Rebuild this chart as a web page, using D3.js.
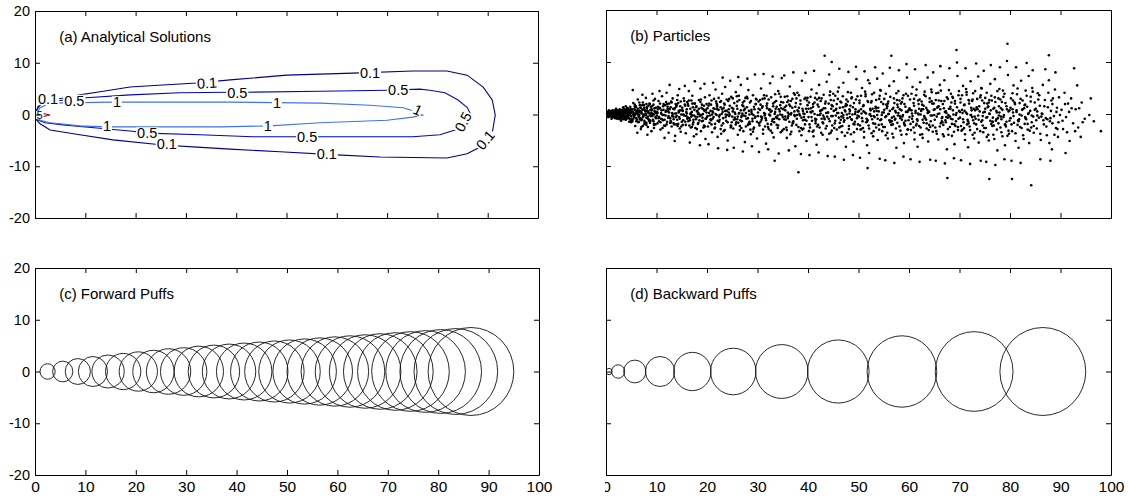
<!DOCTYPE html>
<html>
<head>
<meta charset="utf-8">
<script src="https://cdn.jsdelivr.net/npm/d3@7"></script>
<style>
  body { margin: 0; background: #fff; }
  text { font-family: "Liberation Sans", Arial, sans-serif; }
</style>
</head>
<body>
<div id="wrapper"></div>
<script>
const xTicks = [0, 10, 20, 30, 40, 50, 60, 70, 80, 90, 100];
const yTicks = [-20, -10, 0, 10, 20];
const panelTitles = ["(a) Analytical Solutions", "(b) Particles", "(c) Forward Puffs", "(d) Backward Puffs"];

// (a) contour lines, [x, y]
const contour01 = [[0.0,0.1],[0.6,1.3],[1.4,2.2],[3.0,2.8],[5.6,3.2],[8.9,3.8],[12.3,4.3],[18.9,5.3],[25.4,5.7],[32.2,6.1],[38.8,6.7],[50.1,7.6],[63.2,8.0],[75.1,8.4],[81.9,8.4],[85.9,7.6],[89.1,5.3],[90.9,2.8],[91.5,-0.1],[90.9,-3.6],[88.5,-6.3],[85.9,-7.6],[81.9,-8.4],[68.6,-8.2],[60.0,-7.8],[48.7,-7.2],[38.8,-6.7],[32.2,-6.3],[25.4,-5.9],[15.5,-4.9],[8.9,-3.9],[3.0,-3.0],[1.0,-1.8],[0.0,-0.7]];
const contour05 = [[0.2,0.5],[0.6,1.6],[1.4,2.2],[4.0,2.6],[9.5,3.2],[18.9,3.8],[28.8,4.2],[38.8,4.3],[42.1,4.3],[56.7,4.5],[70.0,4.7],[76.5,4.9],[78.5,4.7],[81.5,4.2],[84.1,2.8],[85.9,1.4],[86.7,-0.1],[86.1,-1.6],[83.5,-3.0],[80.5,-3.9],[75.1,-4.3],[62.0,-4.3],[52.1,-4.3],[43.3,-4.3],[32.8,-3.9],[22.3,-3.6],[18.9,-3.2],[12.3,-2.6],[5.6,-2.0],[2.0,-1.6],[0.6,-1.1]];
const contour1 = [[0.4,0.3],[1.0,1.3],[3.0,2.2],[15.5,2.4],[38.8,2.4],[56.7,2.2],[66.6,1.8],[73.2,1.3],[75.9,0.5],[77.1,-0.1],[75.1,-0.5],[70.0,-1.1],[56.7,-1.6],[46.7,-2.2],[36.8,-2.4],[14.3,-2.4],[8.9,-2.2],[3.0,-1.6],[1.0,-1.1]];
const contour5 = [[0.2,0.5],[3.0,-0.1],[0.2,-0.7]];
// label text, x, y, angle, font size
const contourLabels = [
  ["0.1", 2.6, 3.0, 0, 14.5], ["0.5", 7.8, 2.7, 0, 14.5], ["1", 16.3, 2.4, 0, 14.5], ["0.1", 34.2, 6.1, -3, 14.5], ["0.5", 40.2, 4.2, 0, 14.5],
  ["1", 48.1, 2.2, 0, 14.5], ["0.1", 66.6, 8.0, 0, 14.5], ["0.5", 72.2, 4.7, 0, 14.5], ["1", 76.1, 0.9, 25, 14.5], ["0.5", 85.1, -1.4, -62, 14.5],
  ["0.1", 89.5, -4.9, -50, 14.5], ["1", 14.3, -2.2, 0, 14.5], ["1", 46.3, -2.2, 0, 14.5], ["0.5", 22.3, -3.6, 0, 14.5], ["0.5", 54.1, -4.3, 0, 14.5],
  ["0.1", 26.2, -5.7, 0, 14.5], ["0.1", 58.0, -7.6, 0, 14.5], ["5", 0.9, -0.1, 0, 11]
];

// (b) particle positions, [x, y]
const particles0 = [[0.2,0.1],[0.3,-0.3],[0.4,0.4],[0.5,-0.1],[0.6,0.2],[0.7,-0.5],[0.8,0.0],[0.9,0.5],[1.0,-0.2],[1.1,0.3],
[1.2,-0.6],[1.3,0.1],[1.4,-0.3],[1.5,0.6],[1.6,-0.1],[1.7,0.2],[1.8,-0.8],[1.9,0.4],[2.0,-0.4],[2.1,0.0],
[2.2,0.7],[2.3,-0.2],[2.4,0.3],[2.5,-0.7],[2.6,0.1],[2.7,0.9],[2.8,-0.5],[2.9,0.2],[3.0,-0.1],[3.1,0.5],
[3.2,-0.9],[3.3,0.3],[3.4,-0.3],[3.5,1.0],[3.6,0.0],[3.7,-0.6],[3.8,0.6],[3.9,-1.1],[4.0,0.2],[4.1,-0.2],
[4.2,1.2],[4.3,-0.4],[4.4,0.4],[4.5,-0.8],[4.6,0.8],[4.7,-0.1],[4.8,1.4],[4.9,-1.3],[0.4,-0.6],[0.9,-0.4],
[1.3,0.7],[1.8,0.3],[2.3,0.5],[2.7,-1.0],[3.2,0.8],[3.6,-0.4],[4.0,-1.0],[4.4,1.0],[4.8,0.1],[1.1,-0.9],
[2.0,1.0],[3.0,-1.3],[3.9,1.5],[4.6,-1.5],[0.6,0.7],[1.6,-0.6],[2.5,0.4],[3.4,1.3],[4.2,-0.6],[4.9,0.6],
[5.1,0.3],[5.2,-1.2],[5.4,2.1],[5.5,-0.4],[5.6,0.9],[5.8,-2.3],[5.9,1.5],[6.0,-0.8],[6.1,0.1],[6.3,2.8],
[6.4,-1.6],[6.5,0.6],[6.6,-0.2],[6.8,1.2],[6.9,-2.9],[7.0,0.4],[7.1,-1.0],[7.3,2.2],[7.4,-0.5],[7.5,1.7],
[7.6,-1.9],[7.8,0.0],[7.9,3.1],[8.0,-0.7],[8.1,1.0],[8.3,-2.5],[8.4,0.5],[8.5,-1.3],[8.6,2.0],[8.8,-0.3],
[8.9,1.4],[9.0,-3.3],[9.1,0.8],[9.3,-1.1],[9.4,2.6],[9.5,-0.1],[9.6,1.1],[9.8,-2.0],[9.9,0.2],[5.3,4.6],
[6.2,-3.6],[7.2,3.7],[8.2,-4.0],[9.2,3.9],[5.7,1.8],[6.7,-1.0],[7.7,0.7],[8.7,-1.7],[9.7,2.9],[6.0,0.6],
[7.0,-2.5],[8.0,1.9],[9.0,0.0],[5.0,-1.6],[9.5,-2.7],
[10.1,0.4],[10.2,-1.8],[10.4,2.5],[10.5,-0.6],[10.7,1.1],[10.8,-3.0],[11.0,0.0],[11.1,3.4],[11.3,-1.2],[11.4,0.8],
[11.5,-2.2],[11.7,1.7],[11.8,-0.3],[12.0,4.1],[12.1,-1.5],[12.3,0.5],[12.4,-3.6],[12.5,2.0],[12.7,-0.8],[12.8,1.3],
[13.0,-2.4],[13.1,0.2],[13.2,3.0],[13.4,-1.0],[13.5,0.9],[13.7,-4.2],[13.8,1.9],[14.0,-0.4],[14.1,2.7],[14.3,-1.9],
[14.4,0.6],[14.6,-2.8],[14.7,1.5],[14.9,-0.1],[10.6,4.4],[11.6,-4.6],[12.6,5.6],[13.6,-5.2],[14.5,4.8],[10.9,-0.9],
[11.9,2.3],[12.9,-1.6],[13.9,0.1],[14.8,-3.4],[10.3,1.4],[11.2,-2.7],[12.2,1.0],[13.3,-0.5],[14.2,3.6],[13.9,-2.0],
[15.1,0.7],[15.2,-2.1],[15.4,3.0],[15.5,-0.3],[15.7,1.6],[15.8,-3.7],[16.0,0.1],[16.1,2.3],[16.3,-1.4],[16.4,4.4],
[16.5,-0.8],[16.7,1.0],[16.8,-2.6],[17.0,0.4],[17.1,3.5],[17.3,-1.1],[17.4,-4.3],[17.5,2.0],[17.7,-0.5],[17.8,1.3],
[18.0,-2.9],[18.1,0.6],[18.3,-1.7],[18.4,2.7],[18.5,-0.1],[18.7,4.9],[18.8,-3.3],[19.0,1.8],[19.1,-0.7],[19.3,0.9],
[19.4,-2.2],[19.6,3.2],[19.7,-4.8],[19.9,0.3],[15.6,5.4],[16.6,-5.5],[17.6,6.3],[18.6,-6.0],[19.5,5.8],[15.3,-1.2],
[16.2,1.9],[17.2,-2.0],[18.2,0.0],[19.2,-1.3],[15.9,-0.4],[16.9,2.6],[17.9,-3.9],[18.9,1.2],[19.8,-0.9],[17.0,-0.2]];
const particles20 = [[20.1,1.1],[20.2,-2.4],[20.4,0.2],[20.5,3.6],[20.7,-1.0],[20.8,1.8],[21.0,-3.5],[21.1,0.5],[21.3,-0.6],[21.4,2.9],
[21.6,-1.9],[21.7,4.7],[21.9,-0.2],[22.0,1.4],[22.1,-4.4],[22.3,0.8],[22.4,-1.5],[22.6,2.3],[22.7,-2.9],[22.9,0.0],
[23.0,3.9],[23.2,-0.8],[23.3,1.2],[23.5,-3.1],[23.6,5.2],[23.8,-1.3],[23.9,0.6],[24.1,-5.1],[24.2,2.5],[24.4,-0.4],
[24.5,1.6],[24.7,-2.2],[24.8,3.3],[20.3,-5.8],[21.2,6.0],[22.2,-6.6],[23.1,7.0],[24.0,-6.9],[24.6,6.4],[20.6,-0.3],
[21.5,1.0],[22.5,-1.1],[23.4,2.0],[24.3,0.3],[20.9,-2.0],[21.8,2.4],[22.8,-3.8],[23.7,-0.1],[24.9,-1.6],[22.0,0.9],
[25.1,0.5],[25.2,-2.8],[25.4,2.1],[25.5,-0.7],[25.7,4.2],[25.8,-1.6],[26.0,1.0],[26.1,-4.0],[26.3,0.1],[26.4,2.7],
[26.6,-1.2],[26.7,5.6],[26.9,-0.3],[27.0,1.7],[27.2,-3.3],[27.3,0.7],[27.5,-5.4],[27.6,3.1],[27.8,-0.9],[27.9,1.3],
[28.1,-2.1],[28.2,4.6],[28.4,-0.1],[28.5,2.2],[28.7,-3.9],[28.8,0.4],[29.0,-1.4],[29.1,3.6],[29.3,-2.6],[29.4,0.9],
[29.6,-0.5],[29.7,1.9],[29.9,-4.7],[25.3,-6.5],[26.2,7.1],[27.1,-7.2],[28.0,6.8],[28.9,-6.2],[29.5,7.6],[25.6,0.0],
[26.5,-2.3],[27.4,2.5],[28.3,-1.8],[29.2,-0.2],[25.9,3.4],[26.8,-0.6],[27.7,0.2],[28.6,-3.0],[29.8,2.8],[26.0,-1.0],
[30.1,-0.4],[30.2,2.4],[30.4,-2.2],[30.5,0.8],[30.7,4.9],[30.8,-1.1],[31.0,1.5],[31.1,-3.8],[31.3,0.2],[31.4,3.0],
[31.6,-0.8],[31.7,-5.7],[31.9,1.1],[32.0,-1.9],[32.2,2.8],[32.3,-0.1],[32.5,5.9],[32.6,-3.2],[32.8,0.6],[32.9,-1.4],
[33.1,2.0],[33.2,-4.5],[33.4,0.0],[33.5,3.8],[33.7,-0.6],[33.8,1.4],[34.0,-2.7],[34.1,4.4],[34.3,-1.0],[34.4,0.5],
[34.6,-3.5],[34.7,2.3],[34.9,-0.2],[30.3,-7.3],[31.2,7.7],[32.1,-6.8],[33.0,7.2],[33.4,-9.0],[34.2,-7.6],[34.8,6.9],
[30.6,1.8],[31.5,-2.4],[32.4,0.9],[33.3,-0.9],[34.5,1.7],[30.9,-0.7],[31.8,3.5],[32.7,-2.0],[33.6,1.0],[34.0,-0.3],
[35.1,0.9],[35.2,-2.9],[35.4,3.3],[35.5,-0.5],[35.7,1.6],[35.8,-4.6],[36.0,0.3],[36.1,2.6],[36.3,-1.5],[36.4,5.3],
[36.6,-0.1],[36.7,-3.4],[36.9,1.2],[37.0,-1.8],[37.2,4.0],[37.3,0.5],[37.5,-6.2],[37.6,2.1],[37.8,-0.9],[37.9,0.7],
[38.1,-2.5],[38.2,3.6],[38.4,-0.3],[38.5,1.9],[38.7,-4.1],[38.8,6.4],[39.0,-1.2],[39.1,0.1],[39.3,2.9],[39.4,-2.0],
[39.6,1.0],[39.7,-5.2],[39.9,3.1],[35.3,7.4],[36.2,-7.0],[37.1,8.0],[38.1,-11.2],[38.6,-7.7],[39.5,7.9],[35.6,-1.1],
[36.5,1.5],[37.4,-0.4],[38.3,0.0],[39.2,-0.6],[35.9,2.3],[36.8,-2.2],[37.7,3.0],[38.9,-3.0],[39.8,0.4],[36.0,-0.8],
[40.1,-0.6],[40.2,2.2],[40.4,-2.6],[40.5,0.4],[40.7,4.7],[40.8,-1.3],[41.0,1.4],[41.1,-4.3],[41.3,0.0],[41.4,3.1],
[41.6,-1.0],[41.7,-5.9],[41.9,1.8],[42.0,-2.1],[42.2,5.6],[42.3,-0.2],[42.5,2.5],[42.6,-3.6],[42.8,0.8],[42.9,-1.6],
[43.1,3.7],[43.2,-0.7],[43.4,1.1],[43.5,-2.8],[43.7,6.2],[43.8,-4.9],[44.0,0.3],[44.1,2.0],[44.3,-1.4],[44.4,4.3],
[44.6,-0.4],[44.7,-3.2],[44.9,1.5],[40.3,-7.9],[41.2,8.3],[42.1,-7.4],[43.3,11.2],[44.7,10.0],[43.9,-8.1],[44.2,7.6],
[40.6,1.1],[41.5,-1.8],[42.4,0.6],[43.0,-0.3],[44.5,2.7],[40.9,-3.4],[41.8,2.8],[42.7,-0.9],[43.6,0.2],[44.8,-2.2],
[45.1,0.6],[45.2,-2.7],[45.4,3.5],[45.5,-0.3],[45.7,1.9],[45.8,-4.8],[46.0,0.2],[46.1,5.1],[46.3,-1.7],[46.4,2.4],
[46.6,-0.5],[46.7,-3.5],[46.9,1.3],[47.0,6.0],[47.2,-1.2],[47.3,0.7],[47.5,-6.3],[47.6,2.8],[47.8,-0.8],[47.9,4.2],
[48.1,-2.3],[48.2,0.1],[48.4,1.6],[48.5,-3.9],[48.7,3.2],[48.8,-0.1],[49.0,-5.3],[49.1,2.1],[49.3,-1.5],[49.4,0.9],
[49.6,6.7],[49.7,-2.9],[49.9,0.4],[45.3,-8.2],[46.2,8.7],[47.1,-8.8],[48.0,8.1],[48.9,-7.9],[49.5,9.1],[45.6,1.0],
[46.5,-1.1],[47.4,0.5],[48.3,-0.6],[49.2,-2.0],[45.9,2.9],[46.8,-2.3],[47.7,1.7],[48.6,-1.0],[49.8,3.4],[47.0,-0.2]];
const particles50 = [[50.1,-0.5],[50.2,2.6],[50.4,-3.0],[50.5,0.9],[50.7,5.0],[50.8,-1.4],[51.0,1.7],[51.1,-4.5],[51.3,0.3],[51.4,3.4],
[51.6,-0.9],[51.7,-6.0],[51.9,6.5],[51.8,-10.4],[52.0,-2.2],[52.2,5.9],[52.3,0.0],[52.5,2.2],[52.6,-3.7],[52.8,1.0],
[52.9,-1.8],[53.1,4.1],[53.2,-0.6],[53.4,1.4],[53.5,-2.6],[53.7,6.8],[53.8,-5.0],[54.0,0.5],[54.1,2.9],[54.3,-1.2],
[54.4,4.5],[54.6,-0.2],[54.7,-3.3],[54.9,1.9],[50.3,-8.4],[51.2,8.2],[52.1,-7.5],[53.3,9.0],[54.2,-8.6],[54.8,7.8],
[50.6,0.1],[51.5,-1.6],[52.4,0.7],[53.0,-0.4],[54.5,2.3],[50.9,-2.7],[51.8,2.5],[52.7,-1.0],[53.6,0.6],[54.0,-2.1],
[55.1,0.8],[55.2,-2.5],[55.4,3.9],[55.5,-0.4],[55.7,1.5],[55.8,-4.7],[56.0,0.0],[56.1,5.4],[56.3,-1.6],[56.5,11.2],
[56.6,-0.7],[56.7,-3.8],[56.9,1.2],[57.0,6.3],[57.2,-1.1],[57.3,0.6],[57.5,-6.5],[57.6,2.7],[57.8,-0.3],[57.9,4.4],
[58.1,-2.4],[58.2,0.9],[58.4,2.0],[58.5,-4.0],[58.7,3.0],[58.8,-0.2],[59.0,-5.6],[59.1,1.9],[59.3,-1.3],[59.4,0.4],
[59.6,7.0],[59.7,-3.0],[59.9,0.7],[55.3,-8.9],[56.2,8.9],[57.1,-9.4],[58.0,8.4],[58.9,-8.2],[59.5,9.6],[55.6,1.1],
[56.4,-1.3],[57.4,0.3],[58.3,-0.8],[59.2,-2.2],[55.9,2.4],[56.8,-2.0],[57.7,1.8],[58.6,-1.1],[59.8,3.5],[57.0,-0.5],
[60.1,-0.6],[60.2,2.8],[60.4,-3.1],[60.5,0.7],[60.7,5.2],[60.8,-1.5],[61.0,1.6],[61.1,-4.9],[61.3,0.2],[61.4,3.6],
[61.6,-1.0],[61.7,-6.3],[61.9,1.9],[62.0,-2.3],[62.2,6.1],[62.3,-0.1],[62.5,2.4],[62.6,-3.9],[62.8,0.9],[62.9,-1.7],
[63.1,4.3],[63.2,-0.8],[63.4,1.2],[63.5,-2.8],[63.7,7.0],[63.8,-5.3],[64.0,0.4],[64.1,3.0],[64.3,-1.4],[64.4,4.7],
[64.6,-0.3],[64.7,-3.4],[64.9,2.0],[60.3,-8.7],[61.2,8.6],[62.1,-9.2],[63.3,9.4],[64.2,-8.8],[64.8,8.0],[60.6,0.1],
[61.5,-1.9],[62.4,0.6],[63.0,-0.4],[64.5,2.5],[60.9,-2.6],[61.8,2.6],[62.7,-1.1],[63.6,0.8],[64.0,-2.1],[62.0,1.0],
[65.1,0.9],[65.2,-2.6],[65.4,4.0],[65.5,-0.5],[65.7,1.4],[65.8,-4.9],[66.0,0.1],[66.1,5.6],[66.3,-1.8],[66.4,2.5],
[66.6,-0.6],[66.7,-3.9],[66.9,1.1],[67.0,6.5],[67.2,-1.2],[67.3,0.5],[67.6,-12.3],[67.5,-6.8],[67.7,2.9],[67.8,-0.2],
[67.9,4.6],[68.1,-2.5],[68.2,1.0],[68.4,2.2],[68.5,-4.2],[68.7,3.1],[68.8,-0.1],[69.0,-5.8],[69.1,2.0],[69.3,-1.4],
[69.4,12.3],[69.6,7.3],[69.7,-3.1],[69.9,0.6],[65.3,-9.0],[66.2,9.2],[67.1,-9.5],[68.0,8.8],[68.9,-8.5],[69.5,9.9],
[65.6,1.2],[66.5,-1.4],[67.4,0.2],[68.3,-0.9],[69.2,-2.3],[65.9,2.6],[66.8,-2.1],[67.7,-0.7],[68.6,-1.0],[69.8,3.6],
[70.1,-0.7],[70.2,2.9],[70.4,-3.2],[70.5,0.8],[70.7,5.4],[70.8,-1.6],[71.0,1.8],[71.1,-5.0],[71.3,0.3],[71.4,3.7],
[71.6,-1.1],[71.7,-6.4],[71.9,2.0],[72.0,-2.4],[72.2,6.3],[72.3,-0.2],[72.5,2.5],[72.6,-4.0],[72.8,1.0],[72.9,-1.8],
[73.1,4.4],[73.2,-0.9],[73.4,1.3],[73.5,-2.9],[73.7,7.2],[73.8,-5.5],[74.0,0.5],[74.1,3.2],[74.3,-1.5],[74.4,4.9],
[74.6,-0.4],[74.7,-3.5],[74.9,2.1],[70.3,-8.9],[71.2,8.8],[72.1,-9.6],[73.3,9.7],[74.2,-9.0],[74.8,8.3],[70.6,0.2],
[71.5,-2.0],[72.4,0.7],[73.0,-0.5],[74.5,2.6],[70.9,-2.7],[71.8,2.7],[72.7,-1.2],[73.6,0.9],
[75.1,1.0],[75.2,-2.7],[75.4,4.1],[75.5,-0.6],[75.7,1.5],[75.8,-5.1],[75.9,-12.5],[76.0,0.0],[76.1,5.8],[76.3,-1.9],
[76.4,2.6],[76.6,-0.7],[76.7,-4.0],[76.9,1.2],[77.0,6.7],[77.2,-1.3],[77.3,0.6],[77.5,-7.0],[77.7,3.0],[77.8,-0.3],
[77.9,4.8],[78.1,-2.6],[78.2,1.1],[78.4,2.3],[78.5,-4.3],[78.7,3.3],[78.8,-0.2],[79.0,-6.0],[79.1,2.1],[79.3,-1.5],
[79.5,13.5],[79.6,7.5],[79.7,-3.2],[79.9,0.7],[75.3,-9.2],[76.2,9.4],[77.1,-9.8],[78.0,9.0],[78.9,-8.7],[79.4,10.2],
[75.6,1.3],[76.5,-1.5],[77.4,0.3],[78.3,-1.0],[79.2,-2.4],[75.9,2.7],[76.8,-2.2],[77.6,-0.8]];
const particles80 = [[80.1,-0.8],[80.2,3.0],[80.4,-12.5],[80.4,-3.3],[80.5,0.9],[80.7,5.5],[80.8,-1.7],[81.0,1.9],[81.1,-5.2],[81.3,0.4],
[81.4,3.8],[81.6,-1.2],[81.7,-6.5],[81.9,2.1],[82.0,-2.5],[82.2,6.4],[82.3,-0.3],[82.5,2.6],[82.6,-4.1],[82.8,1.1],
[82.9,-1.9],[83.1,4.5],[83.2,-1.0],[83.4,1.4],[83.5,-3.0],[83.7,7.3],[83.8,-5.6],[84.0,0.6],[84.2,-13.7],[84.1,3.3],
[84.3,-1.6],[84.4,5.0],[84.6,-0.5],[84.7,-3.6],[84.9,2.2],[80.3,-9.0],[81.2,9.0],[82.1,-9.4],[83.3,9.8],[84.5,8.4],
[80.6,0.3],[81.5,-2.1],[82.4,0.8],[83.0,-0.6],[83.6,0.0],
[85.1,1.0],[85.3,-2.8],[85.5,4.0],[85.7,-0.7],[85.9,1.6],[86.1,-5.0],[86.3,0.1],[86.5,5.6],[86.7,-2.0],[86.9,2.7],
[87.1,-0.8],[87.3,-4.1],[87.5,1.3],[87.7,11.3],[87.7,6.5],[87.9,-1.4],[88.1,0.6],[88.3,-6.8],[88.5,3.0],[88.7,-0.4],
[88.9,4.7],[89.1,-2.7],[89.3,1.2],[89.5,-4.4],[89.7,3.2],[89.9,-0.2],[86.0,-8.7],[87.0,8.6],[88.0,-9.0],[89.0,8.0],
[86.6,-1.2],[88.4,-1.8],
[90.2,0.8],[90.5,-2.9],[90.8,4.1],[91.1,-0.6],[91.5,2.0],[91.8,-5.2],[92.2,1.1],[92.7,8.8],[92.9,-3.3],[93.3,5.5],
[93.7,1.1],[94.0,-4.4],[94.4,-1.6],[91.0,-7.5],[95.7,-0.2],[96.6,-1.4],[98.0,-3.3],[96.0,3.0]];
// denser core of the cloud
const particlesCore = [[0.1,0.0],[0.3,0.2],[0.5,-0.3],[0.7,0.3],[0.9,-0.1],[1.0,0.4],[1.2,0.0],[1.4,-0.5],[1.5,0.2],[1.7,-0.2],
[1.9,0.6],[2.0,-0.6],[2.2,0.1],[2.4,-0.3],[2.6,0.5],[2.8,0.0],[3.0,0.7],[3.1,-0.5],[3.3,-0.1],[3.5,0.4],
[3.7,0.9],[3.8,-0.8],[4.0,0.5],[4.2,-0.3],[4.4,0.0],[4.5,0.7],[4.7,-0.9],[4.9,0.3],[5.0,-0.4],[5.2,0.9],
[5.4,-0.9],[5.5,0.2],[5.7,-0.2],[5.9,1.3],[6.0,-1.4],[6.2,0.5],[6.4,0.0],[6.5,-0.6],[6.7,1.7],[6.9,0.3],
[7.0,-1.2],[7.2,0.8],[7.4,-0.3],[7.6,1.2],[7.7,-1.6],[7.9,-0.1],[8.1,0.5],[8.3,-0.9],[8.4,1.6],[8.6,0.1],
[8.8,-1.3],[9.0,0.9],[9.2,-0.4],[9.4,1.8],[9.5,-1.9],[9.7,0.4],[9.9,-0.8],[8.0,-2.1],[6.6,2.2],[7.3,-2.3],
[10.1,-0.3],[10.3,0.9],[10.5,-1.4],[10.7,2.0],[10.9,0.2],[11.1,-1.0],[11.3,1.5],[11.5,-0.2],[11.7,-2.3],[11.9,0.6],
[12.1,1.9],[12.3,-0.7],[12.5,0.3],[12.7,-1.7],[12.9,2.4],[13.1,-0.4],[13.3,1.0],[13.5,-2.0],[13.7,0.1],[13.9,1.4],
[14.1,-1.1],[14.3,2.1],[14.5,-0.6],[14.7,0.7],[14.9,-2.4],[15.1,1.2],[15.3,-0.1],[15.5,2.5],[15.7,-1.5],[15.9,0.4],
[16.1,-0.9],[16.3,1.6],[16.5,-2.2],[16.7,0.0],[16.9,-0.5],[17.1,2.0],[17.3,-1.6],[17.5,0.8],[17.7,-2.7],[17.9,1.5],
[18.1,-0.6],[18.3,0.2],[18.5,-1.2],[18.7,2.3],[18.9,-0.2],[19.1,1.0],[19.3,-2.6],[19.5,0.6],[19.7,-0.9],[19.9,1.9],
[20.1,-0.4],[20.3,1.6],[20.5,-1.7],[20.7,0.6],[20.9,2.6],[21.1,-0.9],[21.3,1.1],[21.5,-2.8],[21.7,0.0],[21.9,2.0],
[22.1,-1.3],[22.3,3.1],[22.5,-0.2],[22.7,1.3],[22.9,-2.2],[23.1,0.4],[23.3,-3.3],[23.5,1.8],[23.7,-0.6],[23.9,2.8],
[24.1,-1.6],[24.3,0.9],[24.5,-0.1],[24.7,-2.6],[24.9,1.2],[25.1,3.0],[25.3,-1.1],[25.5,0.3],[25.7,-2.0],[25.9,1.6],
[26.1,-0.5],[26.3,3.5],[26.5,-3.1],[26.7,0.7],[26.9,-1.4],[27.1,2.2],[27.3,-0.3],[27.5,1.0],[27.7,-2.4],[27.9,3.3],
[28.1,-0.8],[28.3,0.6],[28.5,-1.9],[28.7,2.5],[28.9,0.0],[29.1,-3.4],[29.3,1.4],[29.5,-0.7],[29.7,2.9],[29.9,-1.5],
[30.1,0.3],[30.3,-1.8],[30.5,2.7],[30.7,-0.5],[30.9,1.2],[31.1,-3.0],[31.3,3.6],[31.5,0.0],[31.7,-1.2],[31.9,2.0],
[32.1,-2.5],[32.3,0.8],[32.5,-0.3],[32.7,3.2],[32.9,-3.6],[33.1,1.5],[33.3,-1.6],[33.5,0.4],[33.7,2.5],[33.9,-0.8],
[34.1,-2.2],[34.3,3.9],[34.5,-0.1],[34.7,1.1],[34.9,-3.2],[35.1,2.2],[35.3,-1.0],[35.5,0.7],[35.7,-2.6],[35.9,3.4],
[36.1,-0.4],[36.3,1.8],[36.5,-3.9],[36.7,0.2],[36.9,2.9],[37.1,-1.4],[37.3,-0.2],[37.5,1.4],[37.7,-2.1],[37.9,4.1],
[38.1,0.5],[38.3,-3.3],[38.5,2.6],[38.7,-0.7],[38.9,1.0],[39.1,-2.8],[39.3,0.0],[39.5,3.1],[39.7,-1.3],[39.9,1.7],
[40.1,1.0],[40.3,-2.0],[40.5,3.3],[40.7,-0.6],[40.9,0.5],[41.1,-3.2],[41.3,2.2],[41.5,-1.3],[41.7,4.0],[41.9,-0.2],
[42.1,1.4],[42.3,-2.6],[42.5,0.1],[42.7,3.0],[42.9,-4.0],[43.1,1.1],[43.3,-1.0],[43.5,2.4],[43.7,-2.3],[43.9,0.3],
[44.1,-0.9],[44.3,3.6],[44.5,-3.6],[44.7,1.7],[44.9,-0.4],[45.1,2.6],[45.3,-1.8],[45.5,0.8],[45.7,-3.0],[45.9,4.3],
[46.1,-0.7],[46.3,1.2],[46.5,-2.4],[46.7,0.2],[46.9,3.4],[47.1,-1.5],[47.3,-4.2],[47.5,1.9],[47.7,-0.1],[47.9,2.4],
[48.1,-2.9],[48.3,0.6],[48.5,4.1],[48.7,-1.1],[48.9,1.3],[49.1,-3.5],[49.3,0.0],[49.5,2.8],[49.7,-0.8],[49.9,-2.0],
[50.1,0.6],[50.3,-2.2],[50.5,3.5],[50.7,-0.8],[50.9,1.5],[51.1,-3.4],[51.3,4.3],[51.5,0.1],[51.7,-1.5],[51.9,2.3],
[52.1,-2.8],[52.3,1.0],[52.5,-0.4],[52.7,3.8],[52.9,-4.3],[53.1,0.5],[53.3,-1.9],[53.5,2.7],[53.7,-0.2],[53.9,1.2],
[54.1,-3.0],[54.3,4.6],[54.5,-1.0],[54.7,0.3],[54.9,-2.5],[55.1,2.9],[55.3,-0.6],[55.5,1.8],[55.7,-3.6],[55.9,0.0],
[56.1,-1.2],[56.3,3.3],[56.5,-2.1],[56.7,0.9],[56.9,-4.5],[57.1,2.1],[57.3,-0.9],[57.5,4.0],[57.7,-1.7],[57.9,0.2],
[58.1,2.6],[58.3,-3.2],[58.5,0.7],[58.7,-0.5],[58.9,3.6],[59.1,-2.0],[59.3,1.4],[59.5,-3.9],[59.7,0.4],[59.9,-1.2],
[60.1,1.1],[60.3,-1.9],[60.5,3.9],[60.7,-0.4],[60.9,2.1],[61.1,-3.6],[61.3,0.6],[61.5,4.7],[61.7,-1.3],[61.9,-0.1],
[62.1,2.8],[62.3,-2.6],[62.5,0.9],[62.7,-4.6],[62.9,1.6],[63.1,-0.7],[63.3,3.4],[63.5,-1.8],[63.7,0.2],[63.9,-3.1],
[64.1,2.3],[64.3,-0.3],[64.5,4.2],[64.7,-2.2],[64.9,0.8],[65.1,-1.1],[65.3,2.7],[65.5,-3.8],[65.7,0.0],[65.9,1.5],
[66.1,-2.4],[66.3,4.5],[66.5,-0.8],[66.7,1.9],[66.9,-4.3],[67.1,0.4],[67.3,-1.6],[67.5,3.2],[67.7,-2.9],[67.9,1.0],
[68.1,-0.5],[68.3,3.9],[68.5,-1.9],[68.7,0.7],[68.9,-3.4],[69.1,2.5],[69.3,-0.2],[69.5,1.3],[69.7,-2.5],[69.9,4.4],
[70.1,0.4],[70.3,-2.3],[70.5,3.6],[70.7,-1.0],[70.9,1.7],[71.1,-3.9],[71.3,4.8],[71.5,0.0],[71.7,-1.4],[71.9,2.6],
[72.1,-3.1],[72.3,1.2],[72.5,-0.6],[72.7,4.0],[72.9,-4.7],[73.1,0.7],[73.3,-2.0],[73.5,2.9],[73.7,-0.3],[73.9,1.5],
[74.1,-3.3],[74.3,5.0],[74.5,-1.2],[74.7,0.3],[74.9,-2.7],[75.1,3.1],[75.3,-0.7],[75.5,2.0],[75.7,-4.0],[75.9,0.1],
[76.1,-1.3],[76.3,3.5],[76.5,-2.3],[76.7,1.0],[76.9,-4.8],[77.1,2.3],[77.3,-1.0],[77.5,4.4],[77.7,-1.8],[77.9,0.3],
[78.1,2.8],[78.3,-3.5],[78.5,0.8],[78.7,-0.6],[78.9,3.9],[79.1,-2.1],[79.3,1.5],[79.5,-4.2],[79.7,0.5],[79.9,-1.3],
[80.1,1.2],[80.3,-2.0],[80.5,4.0],[80.7,-0.4],[80.9,2.2],[81.1,-3.7],[81.3,0.7],[81.5,4.9],[81.7,-1.4],[81.9,-0.1],
[82.1,2.9],[82.3,-2.7],[82.5,0.9],[82.7,-4.8],[82.9,1.7],[83.1,-0.8],[83.3,3.5],[83.5,-1.9],[83.7,0.2],[83.9,-3.2],
[84.1,2.4],[84.3,-0.3],[84.5,4.3],[84.7,-2.3],[84.9,0.8],[85.2,-1.2],[85.6,2.8],[86.0,-3.8],[86.4,0.0],[86.8,1.5],
[87.2,-2.4],[87.6,4.1],[88.0,-0.8],[88.4,1.9],[88.8,-4.0],[89.2,0.4],[89.6,-1.6],[85.4,0.5],[86.2,-0.5],[87.4,-1.0],
[88.2,2.6],[89.4,-2.9],[85.8,3.6],[87.8,-5.6],
[90.4,-1.3],[90.9,1.9],[91.3,-3.5],[91.7,0.4],[92.1,3.0],[92.5,-1.8],[93.0,0.9],[93.5,-2.6],[94.2,2.2],[94.8,-0.9]];
const particlesInner = [[0.2,-0.2],[0.4,0.1],[0.6,-0.4],[0.8,0.3],[1.0,0.0],[1.1,-0.3],[1.3,0.4],[1.5,-0.2],[1.6,0.5],[1.8,0.0],
[2.0,0.3],[2.1,-0.5],[2.3,0.2],[2.5,-0.1],[2.6,0.6],[2.8,-0.3],[2.9,0.4],[3.1,0.0],[3.3,-0.6],[3.4,0.7],
[3.6,-0.2],[3.8,0.2],[3.9,-0.5],[4.1,0.8],[4.3,0.1],[4.4,-0.7],[4.6,0.3],[4.8,-0.3],[4.9,1.0],[5.1,-0.9],
[5.3,0.4],[5.4,-0.1],[5.6,-0.6],[5.8,0.7],[5.9,0.0],[6.1,-1.1],[6.3,1.0],[6.4,-0.3],[6.6,0.4],[6.8,-0.8],
[6.9,1.2],[7.1,0.1],[7.3,-0.6],[7.4,0.9],[7.6,-1.3],[7.8,0.5],[7.9,-0.2],[8.1,1.3],[8.3,-0.5],[8.4,0.2],
[8.6,-1.1],[8.8,0.8],[8.9,-0.4],[9.1,1.5],[9.3,0.0],[9.4,-1.4],[9.6,0.6],[9.8,-0.6],[9.9,1.2],[0.5,0.5],
[1.2,-0.7],[1.9,0.8],[2.7,-0.8],[3.5,-1.0],[4.2,1.1],[5.0,0.6],[5.7,1.4],[6.5,-1.5],[7.2,1.7],[8.0,-1.7],
[8.7,1.9],[9.5,-2.1],[3.0,0.1],[4.5,-0.1],[6.0,0.2],[7.5,-0.1],[9.0,0.3],[2.2,-0.9],[5.2,-1.4],[6.7,0.6],
[10.2,0.2],[10.4,-0.8],[10.6,1.2],[10.8,-1.6],[11.0,0.7],[11.2,-0.2],[11.4,1.9],[11.6,-1.1],[11.8,0.4],[12.0,-2.0],
[12.2,1.4],[12.4,-0.4],[12.6,0.9],[12.8,-1.3],[13.0,2.2],[13.2,0.0],[13.4,-1.8],[13.6,1.1],[13.8,-0.6],[14.0,1.7],
[14.2,-2.3],[14.4,0.3],[14.6,-0.9],[14.8,2.4],[15.0,-1.5],[15.2,0.6],[15.4,-0.2],[15.6,1.8],[15.8,-2.1],[16.0,0.9],
[16.2,-0.7],[16.4,2.6],[16.6,-1.2],[16.8,0.2],[17.0,-2.5],[17.2,1.3],[17.4,-0.3],[17.6,2.0],[17.8,-1.0],[18.0,0.5],
[18.2,-1.9],[18.4,1.0],[18.6,-0.4],[18.8,2.8],[19.0,-1.4],[19.2,0.0],[19.4,1.6],[19.6,-2.4],[19.8,0.8],[20.0,-0.6],
[20.4,2.0],[20.8,-1.2],[21.2,0.3],[21.6,-2.6],[22.0,1.7],[22.4,-0.5],[22.8,2.5],[23.2,-1.8],[23.6,0.6],[24.0,-0.2],
[24.4,2.9],[24.8,-2.3],[25.2,1.0],[25.6,-1.0],[26.0,2.4],[26.4,0.2],[26.8,-2.7],[27.2,1.5],[27.6,-0.4],[28.0,3.0],
[28.4,-1.5],[28.8,0.8],[29.2,-2.9],[29.6,1.9],[21.0,-0.1],[23.0,0.9],[25.0,-0.5],[27.0,0.1],[29.0,-0.9],[26.2,-1.7]];
const particlesOuter = [[30.2,1.0],[30.6,-1.5],[31.0,2.9],[31.4,-0.3],[31.8,1.6],[32.2,-2.9],[32.6,0.4],[33.0,-1.0],[33.4,2.3],[33.8,-2.1],
[34.2,0.9],[34.6,3.3],[35.0,-0.6],[35.4,1.3],[35.8,-3.1],[36.2,0.0],[36.6,2.5],[37.0,-1.6],[37.4,3.7],[37.8,-0.2],
[38.2,1.2],[38.6,-2.7],[39.0,0.6],[39.4,-1.1],[39.8,2.6],[40.2,-3.3],[40.6,0.3],[41.0,1.9],[41.4,-0.9],[41.8,-2.4],
[42.2,3.1],[42.6,0.7],[43.0,-1.8],[43.4,2.0],[43.8,-0.5],[44.2,-3.8],[44.6,1.0],[45.0,3.9],[45.4,-1.3],[45.8,0.2],
[46.2,-2.6],[46.6,2.2],[47.0,-0.7],[47.4,1.5],[47.8,-3.6],[48.2,0.9],[48.6,3.0],[49.0,-1.9],[49.4,0.4],[49.8,-0.3],
[50.2,2.1],[50.6,-2.9],[51.0,0.5],[51.4,3.8],[51.8,-1.2],[52.2,-0.1],[52.6,2.5],[53.0,-3.3],[53.4,1.1],[53.8,-0.9],
[54.2,3.5],[54.6,-2.0],[55.0,0.3],[55.4,-4.1],[55.8,2.0],[56.2,0.6],[56.6,-1.4],[57.0,3.0],[57.4,-2.8],[57.8,1.3],
[58.2,-0.4],[58.6,2.3],[59.0,-1.7],[59.4,3.9],[59.8,-3.0],[60.2,0.8],[60.6,-0.9],[61.0,2.9],[61.4,-2.2],[61.8,0.1],
[62.2,-4.0],[62.6,1.8],[63.0,3.7],[63.4,-1.1],[63.8,0.5],[64.2,-2.5],[64.6,2.0],[65.0,-0.2],[65.4,-3.3],[65.8,4.1],
[66.2,0.9],[66.6,-1.6],[67.0,2.5],[67.4,-0.6],[67.8,-4.0],[68.2,1.4],[68.6,3.3],[69.0,-2.0],[69.4,0.2],[69.8,-0.9],
[70.2,2.2],[70.6,-3.0],[71.0,0.6],[71.4,4.2],[71.8,-1.8],[72.2,-0.2],[72.6,2.8],[73.0,-3.6],[73.4,1.0],[73.8,-1.1],
[74.2,3.6],[74.6,-2.2],[75.0,0.4],[75.4,-4.4],[75.8,2.2],[76.2,0.7],[76.6,-1.5],[77.0,3.2],[77.4,-3.0],[77.8,1.5],
[78.2,-0.5],[78.6,4.5],[79.0,-2.0],[79.4,0.9],[79.8,-3.8],[80.6,2.6],[81.8,-1.0],[83.0,1.8],[84.2,-2.6],[85.4,-0.3]];

// (c) forward puffs: centre x and radius
const forwardX = [2.5,5.5,8.5,11.5,14.5,17.5,20.5,23.5,26.5,29.5,32.5,35.5,38.5,41.5,44.5,47.5,50.5,53.5,56.5,59.5,62.5,65.5,68.5,71.5,74.5,77.5,80.5,83.5,86.5];
const forwardR = [1.5,2.0,2.5,2.9,3.2,3.5,3.8,4.1,4.4,4.6,4.9,5.1,5.3,5.5,5.7,5.9,6.1,6.3,6.5,6.7,6.9,7.1,7.3,7.5,7.7,7.9,8.1,8.3,8.5];

// (d) backward puffs: centre x and radius
const backwardX = [0.6,2.4,5.7,10.7,17.1,25.2,34.8,46.0,58.6,72.9,86.5];
const backwardR = [0.6,1.3,2.2,2.9,3.7,4.5,5.2,6.1,6.9,7.7,8.5];

const width = 1128, height = 498;
const svg = d3.select("#wrapper").append("svg")
    .attr("width", width).attr("height", height);

const boxes = [
    {left: 35, right: 538, top: 11, bottom: 218, yLabels: true, xLabels: false},
    {left: 606, right: 1111, top: 10, bottom: 218, yLabels: false, xLabels: false},
    {left: 35, right: 539, top: 268, bottom: 475, yLabels: true, xLabels: true},
    {left: 606, right: 1111, top: 268, bottom: 475, yLabels: false, xLabels: true}
];

const panels = boxes.map((b, i) => {
    const x = d3.scaleLinear().domain([0, 100]).range([b.left, b.right]);
    const y = d3.scaleLinear().domain([-20, 20]).range([b.bottom, b.top]);
    svg.append("clipPath").attr("id", "clip" + i)
        .append("rect")
        .attr("x", b.left).attr("y", b.top)
        .attr("width", b.right - b.left).attr("height", b.bottom - b.top);
    const plot = svg.append("g").attr("clip-path", `url(#clip${i})`);
    return {b, x, y, plot};
});

// (a) contours
const pa = panels[0];
const contourLine = d3.line().x(d => pa.x(d[0])).y(d => pa.y(d[1]));
[[contour01, "#000088"], [contour05, "#0008b8"], [contour1, "#3f72ee"], [contour5, "#a00000"]]
    .forEach(([c, col]) => {
        pa.plot.append("path")
            .attr("d", contourLine(c) + "Z")
            .attr("fill", "none")
            .attr("stroke", col)
            .attr("stroke-width", 1.1);
    });
const labelGroups = pa.plot.selectAll("g.clabel")
    .data(contourLabels)
    .join("g")
    .attr("class", "clabel")
    .attr("transform", d => `translate(${pa.x(d[1])},${pa.y(d[2])}) rotate(${d[3]})`);
labelGroups.append("text")
    .attr("text-anchor", "middle")
    .attr("dy", "0.36em")
    .style("font-size", d => d[4] + "px")
    .attr("fill", "#000")
    .text(d => d[0]);
labelGroups.each(function() {
    const g = d3.select(this);
    const bb = g.select("text").node().getBBox();
    g.insert("rect", "text")
        .attr("x", bb.x - 1).attr("y", bb.y + 2)
        .attr("width", bb.width + 2).attr("height", bb.height - 4)
        .attr("fill", "#fff");
});

// (b) particles
const pb = panels[1];
const particles = particles0.concat(particles20, particles50, particles80, particlesCore, particlesInner, particlesOuter);
pb.plot.selectAll("circle")
    .data(particles)
    .join("circle")
    .attr("cx", d => pb.x(d[0]))
    .attr("cy", d => pb.y(d[1]))
    .attr("r", 1.3)
    .attr("fill", "#000");

// (c) and (d) puffs
function drawPuffs(p, xs, rs) {
    p.plot.selectAll("ellipse")
        .data(xs.map((cx, i) => [cx, rs[i]]))
        .join("ellipse")
        .attr("cx", d => p.x(d[0]))
        .attr("cy", p.y(0))
        .attr("rx", d => p.x(d[1]) - p.x(0))
        .attr("ry", d => p.y(0) - p.y(d[1]))
        .attr("fill", "none")
        .attr("stroke", "#111")
        .attr("stroke-width", 0.9);
}
drawPuffs(panels[2], forwardX, forwardR);
drawPuffs(panels[3], backwardX, backwardR);

// frames, ticks, labels
svg.append("clipPath").attr("id", "clipLabelD")
    .append("rect").attr("x", 605).attr("y", 0).attr("width", 523).attr("height", height);

panels.forEach((p, i) => {
    const b = p.b;
    const g = svg.append("g").attr("class", "axes");
    const style = sel => {
        sel.selectAll("path, line").attr("stroke", "#000");
        sel.selectAll("text").attr("fill", "#000").style("font-family", "Liberation Sans, Arial, sans-serif");
    };
    const bottom = g.append("g").attr("transform", `translate(0,${b.bottom})`)
        .call(d3.axisBottom(p.x).tickValues(xTicks).tickSize(-5).tickSizeOuter(0).tickPadding(6)
            .tickFormat(b.xLabels ? (d => d) : ""))
        .call(style)
        .call(s => s.selectAll("text").style("font-size", "15.5px"));
    if (i === 3) bottom.attr("clip-path", "url(#clipLabelD)");
    g.append("g").attr("transform", `translate(0,${b.top})`)
        .call(d3.axisTop(p.x).tickValues(xTicks).tickSize(-5).tickSizeOuter(0).tickFormat(""))
        .call(style);
    g.append("g").attr("transform", `translate(${b.left},0)`)
        .call(d3.axisLeft(p.y).tickValues(yTicks).tickSize(-5).tickSizeOuter(0).tickPadding(5)
            .tickFormat(b.yLabels ? (d => d) : ""))
        .call(style)
        .call(s => s.selectAll("text").style("font-size", "14.5px"));
    g.append("g").attr("transform", `translate(${b.right},0)`)
        .call(d3.axisRight(p.y).tickValues(yTicks).tickSize(-5).tickSizeOuter(0).tickFormat(""))
        .call(style);
    g.selectAll(".domain").attr("stroke-width", 1);

    svg.append("text")
        .attr("x", p.x(4.8))
        .attr("y", p.y(14.1))
        .style("font-size", "15px")
        .attr("fill", "#000")
        .text(panelTitles[i]);
});
</script>
</body>
</html>
